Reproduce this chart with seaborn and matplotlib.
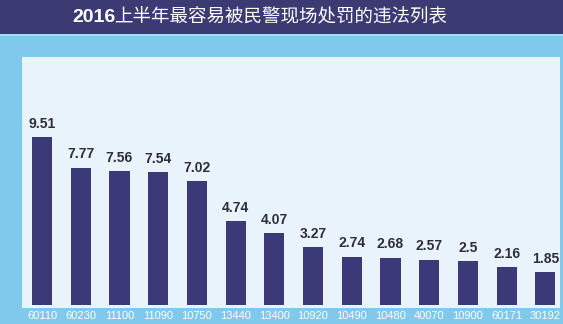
import matplotlib
matplotlib.use("Agg")
import matplotlib.pyplot as plt
import seaborn as sns
import pandas as pd
from matplotlib.patches import Rectangle

codes = ["60110", "60230", "11100", "11090", "10750", "13440", "13400",
         "10920", "10490", "10480", "40070", "10900", "60171", "30192"]
values = [9.51, 7.77, 7.56, 7.54, 7.02, 4.74, 4.07, 3.27, 2.74, 2.68, 2.57, 2.5, 2.16, 1.85]
value_labels = ["9.51", "7.77", "7.56", "7.54", "7.02", "4.74", "4.07", "3.27",
                "2.74", "2.68", "2.57", "2.5", "2.16", "1.85"]
title_year = "2016"
title_rest = "上半年最容易被民警现场处罚的违法列表"

sns.set_theme(style="white")
plt.rcParams['font.family'] = ['Liberation Sans', 'Noto Sans CJK SC', 'DejaVu Sans']

df = pd.DataFrame({"code": codes, "value": values})

W, H = 563, 324
fig = plt.figure(figsize=(W / 100, H / 100), dpi=100)
fig.patch.set_facecolor("#80c8ec")

# title band
fig.patches.append(Rectangle((0, 1 - 34 / H), 1, 34 / H, transform=fig.transFigure,
                             facecolor="#3c3a72", edgecolor="none", zorder=0))
fig.patches.append(Rectangle((0, 1 - 36 / H), 1, 2 / H, transform=fig.transFigure,
                             facecolor="#a9dcf4", edgecolor="none", zorder=0))
fig.text(72 / W, 1 - 18 / H, title_year, color="white", fontsize=14,
         fontweight="bold", family=['Liberation Sans', 'DejaVu Sans'],
         ha="left", va="center")
fig.text(114 / W, 1 - 17 / H, title_rest, color="white", fontsize=13.3,
         family=['Noto Sans CJK SC', 'DejaVu Sans'], ha="left", va="center")

ax = fig.add_axes([22 / W, (H - 308) / H, 538 / W, 251 / H])
ax.set_facecolor("#e9f3fc")
sns.barplot(data=df, x="code", y="value", color="#3a3a78", width=0.52,
            saturation=1, ax=ax, edgecolor="none")
ax.set_xlim(-0.517, 13.38)
ax.set_ylim(-0.17, 14.03)
for i, (v, lab) in enumerate(zip(values, value_labels)):
    ax.text(i, v + 0.35, lab, ha="center", va="bottom", fontsize=10,
            fontweight="bold", color="#2e2e3a")
for s in ax.spines.values():
    s.set_visible(False)
ax.set_xlabel("")
ax.set_ylabel("")
ax.set_yticks([])
ax.tick_params(axis="x", length=0, pad=2.5, labelsize=8, labelcolor="white")
fig.savefig("out.png", dpi=100, facecolor=fig.get_facecolor())
